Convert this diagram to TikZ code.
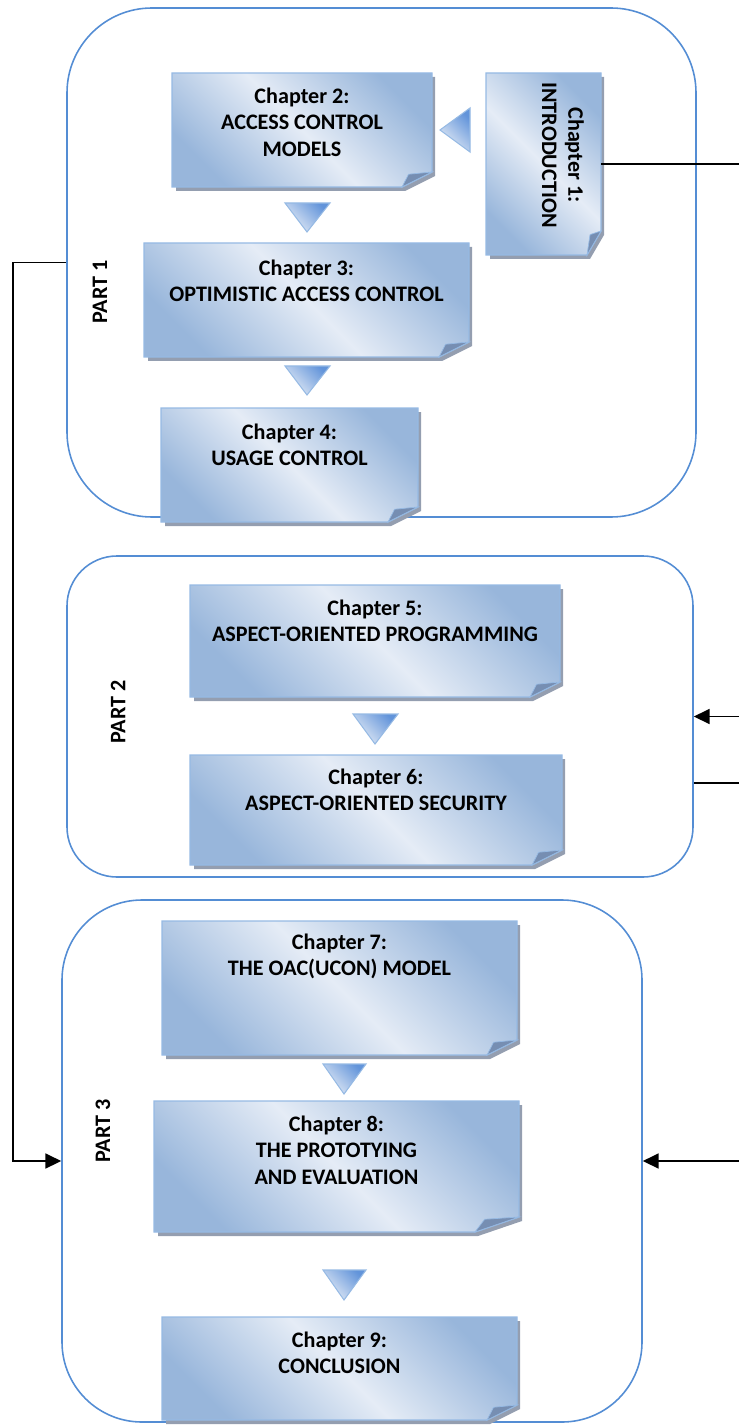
\documentclass[tikz,border=0pt]{standalone}
\usepackage{fontspec}
\setmainfont{Carlito}
\usetikzlibrary{positioning,fit,arrows.meta}

\definecolor{partline}{RGB}{84,141,212}
\definecolor{chapline}{RGB}{150,186,228}
\definecolor{chaplight}{RGB}{229,236,246}
\definecolor{chapdark}{RGB}{152,182,219}
\definecolor{chapshadow}{RGB}{148,158,176}
\definecolor{curlcol}{RGB}{118,142,178}
\definecolor{tridark}{RGB}{98,148,218}

\tikzset{part/.style={draw=partline, line width=0.9pt, inner sep=0pt},
	chapfill/.style={draw=chapline, line width=0.8pt, top color=chapdark,
		bottom color=chapdark, middle color=chaplight, shading angle=-45},
	chapshade/.style={fill=chapshadow},
	chapcurl/.style={fill=curlcol, draw=chapline, line width=0.4pt},
	chaptext/.style={font=\bfseries\fontsize{12.6}{15}\selectfont, align=center, inner sep=0pt},
	parttext/.style={font=\bfseries\fontsize{12.6}{15}\selectfont, rotate=90, inner sep=0pt},
	pointer/.style={draw=chapline, line width=0.6pt, top color=tridark,
		bottom color=chaplight, shading angle=-45},
	link/.style={line width=1.1pt},
	feed/.style={link, -{Triangle[length=9pt,width=8.5pt]}}}

% folded sheet: name, left, top, right, bottom, fold width, fold height
\newcommand{\chapbox}[7]{%
	\fill[chapshade] (#2+4,#3+4) -- (#4+3,#3+4) -- (#4+3,#5+4-#7)
		-- (#4+3-#6,#5+4) -- (#2+4,#5+4) -- cycle;
	\path[chapfill] (#2,#3) -- (#4,#3) -- (#4,#5-#7) -- (#4-#6,#5) -- (#2,#5) -- cycle;
	\path[chapcurl] (#4-#6,#5) -- (#4-0.78*#6,#5-0.85*#7) -- (#4,#5-#7) -- cycle;
	\node[fit={(#2,#3) (#4,#5)}, inner sep=0pt] (#1) {};
}

\begin{document}
\begin{tikzpicture}[x=0.02cm, y=-0.02cm]
	\useasboundingbox (0,0) rectangle (739,1425);

	% the three parts
	\node[part, rounded corners=1.7cm, fit={(67,8) (696,517)}] (part1) {};
	\node[part, rounded corners=1cm, fit={(67,556) (693,877)}] (part2) {};
	\node[part, rounded corners=1.6cm, fit={(62,900) (642,1422)}] (part3) {};

	\node[parttext] (part1-label) at (100,292) {PART 1};
	\node[parttext] (part2-label) at (118,712) {PART 2};
	\node[parttext] (part3-label) at (103,1131) {PART 3};

	% part 1
	\chapbox{ch1}{486}{73}{601}{255}{14}{24}
	\chapbox{ch2}{172}{73}{432}{187}{30}{15}
	\chapbox{ch3}{144}{243}{469}{357}{30}{15}
	\chapbox{ch4}{161}{408}{418}{522}{30}{15}
	\node[chaptext, rotate=-90, anchor=north] (ch1-text) at ([xshift=-0.34cm,yshift=0.18cm]ch1.east)
		{Chapter 1:\\INTRODUCTION};
	\node[chaptext, below=0.3cm of ch2.north] (ch2-text) {Chapter 2:\\ACCESS CONTROL\\MODELS};
	\node[chaptext, below=0.34cm of ch3.north] (ch3-text) {Chapter 3:\\OPTIMISTIC ACCESS CONTROL};
	\node[chaptext, below=0.32cm of ch4.north] (ch4-text) {Chapter 4:\\USAGE CONTROL};
	\path[pointer] (470,108) -- (470,152) -- (440,130) -- cycle;
	\path[pointer] (285,203) -- (330,203) -- (307,232) -- cycle;
	\path[pointer] (285,366) -- (330,366) -- (307,395) -- cycle;

	% part 2
	\chapbox{ch5}{190}{585}{560}{697}{30}{15}
	\chapbox{ch6}{190}{755}{562}{865}{30}{15}
	\node[chaptext, below=0.3cm of ch5.north] (ch5-text) {Chapter 5:\\ASPECT-ORIENTED PROGRAMMING};
	\node[chaptext, below=0.28cm of ch6.north] (ch6-text) {Chapter 6:\\ASPECT-ORIENTED SECURITY};
	\path[pointer] (353,714) -- (398,714) -- (375,744) -- cycle;

	% part 3
	\chapbox{ch7}{162}{921}{517}{1055}{30}{15}
	\chapbox{ch8}{154}{1101}{519}{1232}{44}{15}
	\chapbox{ch9}{162}{1317}{517}{1420}{30}{15}
	\node[chaptext, below=0.26cm of ch7.north] (ch7-text) {Chapter 7:\\THE OAC(UCON) MODEL};
	\node[chaptext, below=0.3cm of ch8.north] (ch8-text) {Chapter 8:\\THE PROTOTYING\\AND EVALUATION};
	\node[chaptext, below=0.3cm of ch9.north] (ch9-text) {Chapter 9:\\CONCLUSION};
	\path[pointer] (323,1064) -- (366,1064) -- (344,1094) -- cycle;
	\path[pointer] (323,1270) -- (366,1270) -- (344,1300) -- cycle;

	% links between the parts
	\coordinate (rail) at (13,0);
	\coordinate (rim) at (745,0);
	\draw[link] (ch1.east) -- (ch1.east -| rim);
	\draw[feed] (part1.west) -- (part1.west -| rail) |- (part3.west);
	\draw[feed] (part2.east -| rim) -- (part2.east);
	\draw[link] ([yshift=-1.33cm]part2.east) -- ([yshift=-1.33cm]part2.east -| rim);
	\draw[feed] (part3.east -| rim) -- (part3.east);
\end{tikzpicture}
\end{document}
